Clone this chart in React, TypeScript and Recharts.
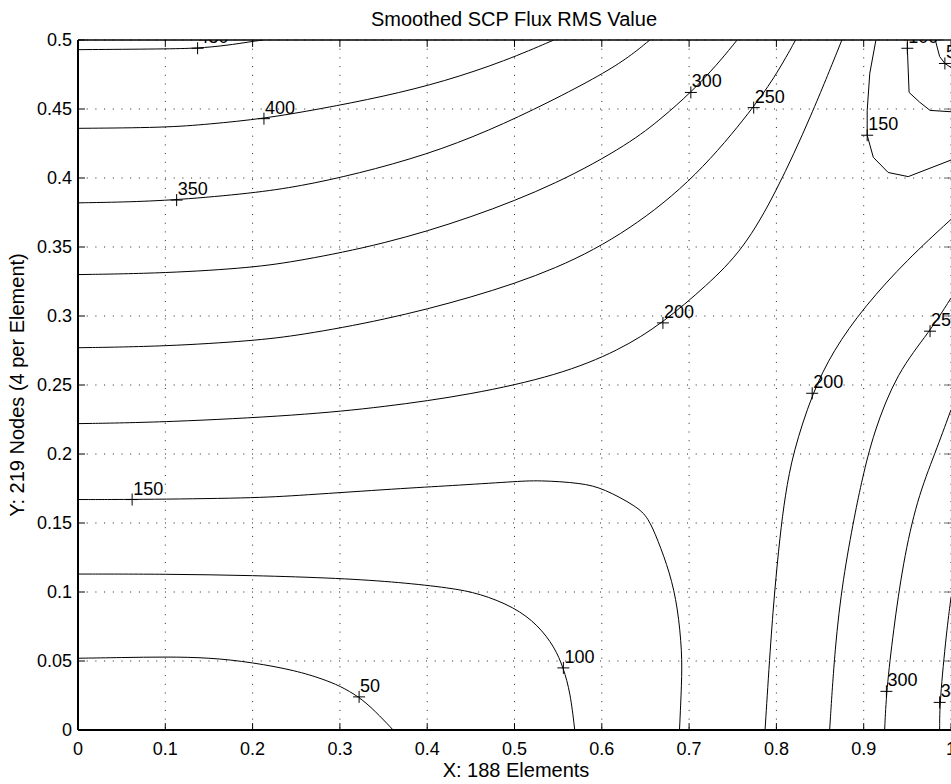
import {
  CartesianGrid,
  ComposedChart,
  Label,
  Line,
  ReferenceLine,
  Scatter,
  XAxis,
  YAxis,
} from "recharts";

const FONT = '"Liberation Sans", Arial, Helvetica, sans-serif';

const X_TICKS = [0, 0.1, 0.2, 0.3, 0.4, 0.5, 0.6, 0.7, 0.8, 0.9, 1];
const Y_TICKS = [0, 0.05, 0.1, 0.15, 0.2, 0.25, 0.3, 0.35, 0.4, 0.45, 0.5];

type Pt = [number, number];

// Contours running in from the left edge and bending up / down.
const LEFT_450: Pt[] = [[0, 0.493], [0.1, 0.4935], [0.137, 0.494], [0.17, 0.496], [0.2, 0.499], [0.212, 0.5]];
const LEFT_400: Pt[] = [[0, 0.436], [0.1, 0.4365], [0.15, 0.439], [0.213, 0.443], [0.277, 0.45], [0.35, 0.459], [0.42, 0.47], [0.49, 0.485], [0.545, 0.5]];
const LEFT_350: Pt[] = [[0, 0.382], [0.05, 0.3825], [0.113, 0.384], [0.2, 0.389], [0.254, 0.394], [0.32, 0.403], [0.4, 0.417], [0.47, 0.434], [0.54, 0.455], [0.6, 0.475], [0.632, 0.488], [0.655, 0.5]];
const LEFT_300: Pt[] = [[0, 0.33], [0.1, 0.331], [0.2, 0.335], [0.254, 0.34], [0.35, 0.352], [0.45, 0.371], [0.55, 0.396], [0.632, 0.425], [0.67, 0.444], [0.702, 0.462], [0.732, 0.482], [0.755, 0.5]];
const LEFT_250: Pt[] = [[0, 0.277], [0.1, 0.278], [0.2, 0.282], [0.254, 0.286], [0.35, 0.297], [0.45, 0.313], [0.55, 0.334], [0.632, 0.362], [0.709, 0.401], [0.774, 0.451], [0.801, 0.476], [0.822, 0.5]];
const LEFT_200: Pt[] = [[0, 0.222], [0.1, 0.223], [0.254, 0.228], [0.35, 0.234], [0.45, 0.243], [0.55, 0.257], [0.62, 0.275], [0.67, 0.295], [0.72, 0.322], [0.762, 0.348], [0.8, 0.39], [0.84, 0.445], [0.875, 0.5]];
const LEFT_150: Pt[] = [[0, 0.167], [0.062, 0.167], [0.2, 0.168], [0.254, 0.17], [0.369, 0.175], [0.426, 0.177], [0.5, 0.18], [0.527, 0.181], [0.577, 0.179], [0.602, 0.175], [0.64, 0.162], [0.653, 0.154], [0.664, 0.138], [0.678, 0.114], [0.687, 0.089], [0.692, 0.056], [0.6915, 0.034], [0.689, 0]];
const LEFT_100: Pt[] = [[0, 0.113], [0.1, 0.113], [0.2, 0.112], [0.3, 0.11], [0.369, 0.107], [0.426, 0.103], [0.46, 0.099], [0.5, 0.089], [0.527, 0.076], [0.546, 0.06], [0.556, 0.045], [0.564, 0.027], [0.569, 0]];
const LEFT_50: Pt[] = [[0, 0.052], [0.05, 0.0525], [0.1, 0.053], [0.15, 0.0525], [0.2, 0.049], [0.25, 0.043], [0.28, 0.037], [0.3, 0.032], [0.322, 0.024], [0.34, 0.014], [0.361, 0]];

// Low pocket in the top-right corner.
const TOP_150: Pt[] = [[0.914, 0.5], [0.907, 0.476], [0.904, 0.449], [0.904, 0.431], [0.911, 0.415], [0.928, 0.404], [0.951, 0.401], [1, 0.413]];
const TOP_100: Pt[] = [[0.95, 0.5], [0.95, 0.494], [0.952, 0.462], [0.964, 0.455], [0.976, 0.449], [1, 0.448]];
const TOP_50: Pt[] = [[0.982, 0.5], [0.987, 0.488], [0.993, 0.483], [1, 0.48]];

// Contours rising from the bottom edge on the right.
const BOTTOM_200: Pt[] = [[0.787, 0], [0.793, 0.06], [0.798, 0.101], [0.804, 0.14], [0.81, 0.17], [0.819, 0.201], [0.841, 0.244], [0.865, 0.275], [0.901, 0.307], [0.95, 0.341], [1, 0.37]];
const BOTTOM_250: Pt[] = [[0.861, 0], [0.867, 0.06], [0.876, 0.109], [0.89, 0.157], [0.898, 0.181], [0.911, 0.215], [0.938, 0.259], [0.976, 0.289], [1, 0.313]];
const BOTTOM_300: Pt[] = [[0.924, 0], [0.926, 0.028], [0.934, 0.072], [0.945, 0.121], [0.961, 0.167], [0.982, 0.201], [1, 0.232]];
const BOTTOM_350: Pt[] = [[0.987, 0], [0.987, 0.02], [0.995, 0.072], [1, 0.096]];

// b-spline through the smooth contours; the coarse corner pocket stays a polyline
const CONTOURS: { pts: Pt[]; curve: "basis" | "linear" }[] = [
  { pts: LEFT_450, curve: "basis" },
  { pts: LEFT_400, curve: "basis" },
  { pts: LEFT_350, curve: "basis" },
  { pts: LEFT_300, curve: "basis" },
  { pts: LEFT_250, curve: "basis" },
  { pts: LEFT_200, curve: "basis" },
  { pts: LEFT_150, curve: "basis" },
  { pts: LEFT_100, curve: "basis" },
  { pts: LEFT_50, curve: "basis" },
  { pts: TOP_150, curve: "linear" },
  { pts: TOP_100, curve: "linear" },
  { pts: TOP_50, curve: "linear" },
  { pts: BOTTOM_200, curve: "basis" },
  { pts: BOTTOM_250, curve: "basis" },
  { pts: BOTTOM_300, curve: "basis" },
  { pts: BOTTOM_350, curve: "basis" },
];

const LEVEL_LABELS = [
  { level: 450, x: 0.137, y: 0.494 },
  { level: 400, x: 0.213, y: 0.443 },
  { level: 350, x: 0.113, y: 0.384 },
  { level: 300, x: 0.702, y: 0.462 },
  { level: 250, x: 0.774, y: 0.451 },
  { level: 200, x: 0.67, y: 0.295 },
  { level: 150, x: 0.062, y: 0.167 },
  { level: 100, x: 0.556, y: 0.045 },
  { level: 50, x: 0.322, y: 0.024 },
  { level: 150, x: 0.904, y: 0.431 },
  { level: 100, x: 0.95, y: 0.494 },
  { level: 50, x: 0.993, y: 0.483 },
  { level: 200, x: 0.841, y: 0.244 },
  { level: 250, x: 0.976, y: 0.289 },
  { level: 300, x: 0.926, y: 0.028 },
  { level: 350, x: 0.987, y: 0.02 },
];

const W = 951;
const H = 784;
// axes get 1px of room each so they still render
const MARGIN = { top: 40, right: 0, bottom: 53, left: 77 };
const PLOT = { x: 78, y: 40, w: W - 78, h: 730 - 40 };

/** "+" marker with the level written up and to the right, clipped to the axes box. */
function LevelMark(props: any) {
  const { cx, cy, payload } = props;
  return (
    <g>
      <line x1={cx - 6} x2={cx + 6} y1={cy} y2={cy} stroke="#000" />
      <line x1={cx} x2={cx} y1={cy - 6} y2={cy + 6} stroke="#000" />
      <svg x={PLOT.x} y={PLOT.y} width={PLOT.w} height={PLOT.h} overflow="hidden">
        <text x={cx - PLOT.x + 1} y={cy - PLOT.y - 5} fontSize={18} fontFamily={FONT} fill="#000">
          {payload.level}
        </text>
      </svg>
    </g>
  );
}

const tickStyle = { fontSize: 18, fontFamily: FONT, fill: "#000" };

function Titles() {
  return (
    <g>
      <text x={516} y={777} textAnchor="middle" fontSize={20} fontFamily={FONT} fill="#000">
        X: 188 Elements
      </text>
      <text x={514} y={26} textAnchor="middle" fontSize={20} fontFamily={FONT} fill="#000">
        Smoothed SCP Flux RMS Value
      </text>
      <text
        x={24}
        y={385}
        transform="rotate(-90 24 385)"
        textAnchor="middle"
        fontSize={20}
        fontFamily={FONT}
        fill="#000"
      >
        Y: 219 Nodes (4 per Element)
      </text>
    </g>
  );
}

export default function App() {
  return (
    <div style={{ position: "absolute", left: 0, top: 0, width: W, height: H, overflow: "hidden", background: "#fff" }}>
      <ComposedChart width={W} height={H} margin={MARGIN}>
        <CartesianGrid stroke="#222" strokeDasharray="1 7.7" />
        <XAxis
          type="number"
          dataKey="x"
          domain={[0, 1]}
          ticks={X_TICKS}
          interval={0}
          height={1}
          tickSize={0}
          tickLine={false}
          tickMargin={12}
          tick={tickStyle}
          axisLine={{ stroke: "#000", strokeWidth: 2 }}
          allowDataOverflow
        >
          <Label content={() => <Titles />} />
        </XAxis>
        <YAxis
          type="number"
          dataKey="y"
          domain={[0, 0.5]}
          ticks={Y_TICKS}
          interval={0}
          width={1}
          tickSize={0}
          tickLine={false}
          tickMargin={6}
          tick={tickStyle}
          axisLine={{ stroke: "#000", strokeWidth: 2 }}
          allowDataOverflow
        />
        <ReferenceLine y={0.5} stroke="#000" strokeWidth={1.5} />
        {/* inward tick marks on all four sides */}
        {X_TICKS.map((t) => (
          <ReferenceLine key={`xb${t}`} segment={[{ x: t, y: 0 }, { x: t, y: 0.005 }]} stroke="#000" />
        ))}
        {X_TICKS.map((t) => (
          <ReferenceLine key={`xt${t}`} segment={[{ x: t, y: 0.5 }, { x: t, y: 0.495 }]} stroke="#000" />
        ))}
        {Y_TICKS.map((t) => (
          <ReferenceLine key={`yl${t}`} segment={[{ x: 0, y: t }, { x: 0.008, y: t }]} stroke="#000" />
        ))}
        {Y_TICKS.map((t) => (
          <ReferenceLine key={`yr${t}`} segment={[{ x: 0.992, y: t }, { x: 1, y: t }]} stroke="#666" />
        ))}
        {CONTOURS.map((c, i) => (
          <Line
            key={i}
            data={c.pts.map(([x, y]) => ({ x, y }))}
            dataKey="y"
            type={c.curve}
            stroke="#000"
            strokeWidth={1}
            dot={false}
            activeDot={false}
            isAnimationActive={false}
          />
        ))}
        <Scatter data={LEVEL_LABELS} shape={<LevelMark />} isAnimationActive={false} />
      </ComposedChart>
    </div>
  );
}
